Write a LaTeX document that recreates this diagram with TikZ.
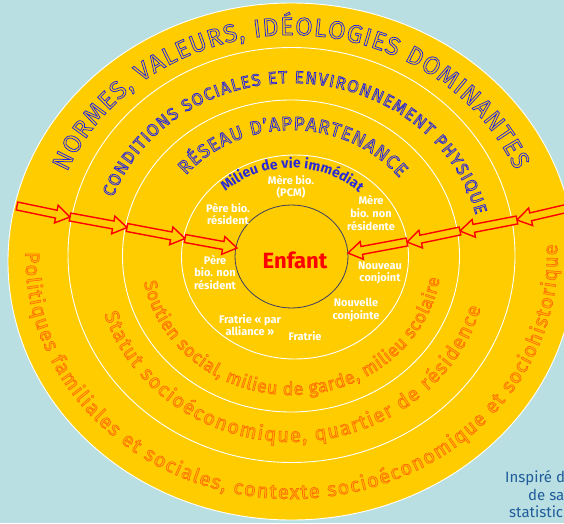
\documentclass[tikz,border=0pt]{standalone}
\usepackage{fontspec}
\setmainfont{Fira Sans}
\usetikzlibrary{decorations.text,calc,shapes.geometric}
\definecolor{bgblue}{HTML}{B9DFE2}
\definecolor{ringyellow}{HTML}{FFCC00}
\definecolor{outblue}{HTML}{2424E0}
\definecolor{outorange}{HTML}{FF6E00}
\definecolor{milieublue}{HTML}{2B2BD6}
\definecolor{navyline}{HTML}{3C3C64}
\definecolor{credit}{HTML}{1F5C99}
\newcommand\strokeB{\color{outblue}\special{pdf:literal direct 1 Tr 0.75 w}}
\newcommand\strokeO{\color{outorange}\special{pdf:literal direct 2 Tr 0.7 w 1 0.74 0 rg}}
\newcommand\fillmode{\special{pdf:literal direct 0 Tr}}
\begin{document}
\begin{tikzpicture}[x=1pt,y=1pt,
  ringline/.style={draw=white, line width=0.9pt},
  whitelbl/.style={text=white, font=\fillmode\fontsize{11}{12.5}\selectfont\bfseries, align=center, inner sep=0pt},
  redarrow/.style={draw=red, fill=ringyellow, line width=1.4pt, line join=miter},
  credittxt/.style={text=credit, font=\fillmode\fontsize{15}{15}\selectfont, anchor=base west, inner sep=0pt}]
\useasboundingbox (0,0) rectangle (564,523);
\clip (0,0) rectangle (564,523);
\fill[bgblue] (0,0) rectangle (564,523);
\coordinate (C) at (291.5,266);
% rings
\draw[ringline, fill=ringyellow] (291.5,261.5) ellipse [x radius=283.5pt, y radius=258.5pt];
\draw[ringline] (291.5,268) ellipse [x radius=223.5pt, y radius=207.5pt];
\draw[ringline] (291,267) ellipse [x radius=168.5pt, y radius=156pt];
\draw[ringline] (295,266) ellipse [x radius=113.5pt, y radius=102pt];
\node[ellipse, draw=navyline, line width=0.8pt, fill=ringyellow, minimum width=113pt, minimum height=103pt, inner sep=0pt] (enfantc) at (291.5,266.5) {};
% top texts
\path[decorate, decoration={text along path, text align={fit to path},
  text={|\fontsize{25}{25}\selectfont\strokeB|NORMES, VALEURS, IDÉOLOGIES DOMINANTES}}]
  (C) ++(157.5:243pt and 222pt) arc[start angle=157.5, end angle=23, x radius=243pt, y radius=222pt];
\path[decorate, decoration={text along path, text align={fit to path},
  text={|\fontsize{17}{17}\selectfont\strokeB|CONDITIONS SOCIALES ET ENVIRONNEMENT PHYSIQUE}}]
  (C) ++(160:190pt and 174pt) arc[start angle=160, end angle=14, x radius=190pt, y radius=174pt];
\path[decorate, decoration={text along path, text align={fit to path},
  text={|\fontsize{19}{19}\selectfont\strokeB|RÉSEAU D'APPARTENANCE}}]
  (C) ++(140:138pt and 127pt) arc[start angle=140, end angle=38.5, x radius=138pt, y radius=127pt];
\path[decorate, decoration={text along path, text align={fit to path},
  text={|\fillmode\fontsize{14}{14}\selectfont\bfseries\color{milieublue}|Milieu de vie immédiat}}]
  (C) ++(133:97pt and 89pt) arc[start angle=133, end angle=46, x radius=97pt, y radius=89pt];
% bottom texts
\path[decorate, decoration={text along path, text align={fit to path},
  text={|\fontsize{20}{20}\selectfont\strokeO|Politiques familiales et sociales, contexte socioéconomique et sociohistorique}}]
  (C) ++(178.8:266pt and 242pt) arc[start angle=178.8, end angle=363, x radius=266pt, y radius=242pt];
\path[decorate, decoration={text along path, text align={fit to path},
  text={|\fontsize{20}{20}\selectfont\strokeO|Statut socioéconomique, quartier de résidence}}]
  (C) ++(198:197pt and 185pt) arc[start angle=198, end angle=344, x radius=197pt, y radius=185pt];
\path[decorate, decoration={text along path, text align={fit to path},
  text={|\fontsize{18}{18}\selectfont\strokeO|Soutien social, milieu de garde, milieu scolaire}}]
  (C) ++(190.5:150pt and 138pt) arc[start angle=190.5, end angle=351, x radius=150pt, y radius=138pt];
% centre and white labels
\node[text=red, font=\fillmode\fontsize{22}{22}\selectfont\bfseries, inner sep=0pt] (enfant) at (295,263) {Enfant};
\node[whitelbl] (mereb) at (291,336) {Mère bio.\\(PCM)};
\node[whitelbl] (pereres) at (228,309) {Père bio.\\résident};
\node[whitelbl] (merenon) at (371,310) {Mère\\bio. non\\résidente};
\node[whitelbl] (perenon) at (215,251) {Père\\bio. non\\résident};
\node[whitelbl] (nouveau) at (380,250) {Nouveau\\conjoint};
\node[whitelbl] (nouvelle) at (356,213) {Nouvelle\\conjointe};
\node[whitelbl] (fratriepar) at (250,198) {Fratrie « par\\alliance »};
\node[whitelbl] (fratrie) at (305,187) {Fratrie};
% arrows
\coordinate (L0) at (17,317);
\coordinate (L1) at (70,306);
\coordinate (L2) at (127,295.5);
\coordinate (L3) at (185,284.5);
\coordinate (L4) at (237,275);
\coordinate (R0) at (575,316.5);
\coordinate (R1) at (517,303);
\coordinate (R2) at (460,292);
\coordinate (R3) at (407,281);
\coordinate (R4) at (348,270);
\foreach \a/\b in {L0/L1,L1/L2,L2/L3,L3/L4,R0/R1,R1/R2,R2/R3,R3/R4}{
  \draw[redarrow] ($(\a)!4pt!90:(\b)$) -- ($(\b)!14pt!(\a)!4pt!-90:(\a)$)
    -- ($(\b)!14pt!(\a)!9pt!-90:(\a)$) -- (\b)
    -- ($(\b)!14pt!(\a)!9pt!90:(\a)$) -- ($(\b)!14pt!(\a)!4pt!90:(\a)$)
    -- ($(\a)!4pt!-90:(\b)$) -- cycle;
}
% credit
\node[credittxt] (cr1) at (505,41) {Inspiré d};
\node[credittxt] (cr2) at (528,23) {de sa};
\node[credittxt] (cr3) at (509,6) {statistic};
\end{tikzpicture}
\end{document}
